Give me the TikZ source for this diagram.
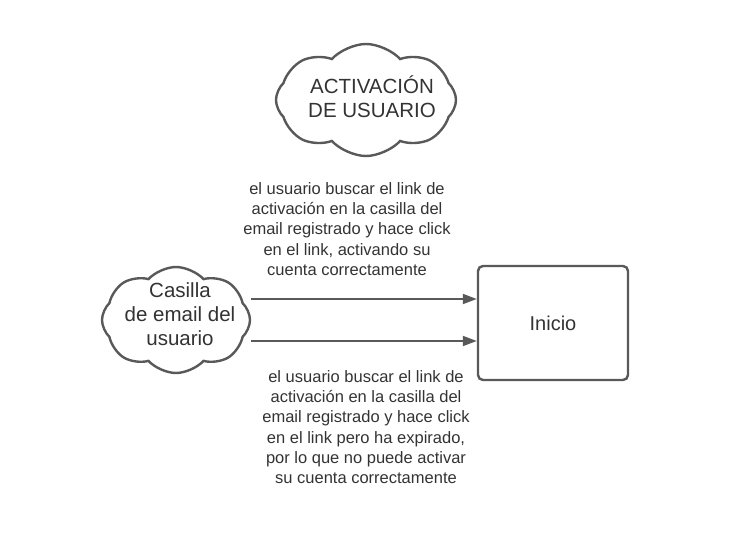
\documentclass[tikz,border=0pt]{standalone}
\usepackage{fontspec}
\setmainfont{Liberation Sans}
\usetikzlibrary{shapes.symbols,arrows.meta}
\definecolor{edge}{HTML}{595959}
\definecolor{ink}{HTML}{333333}
\tikzset{
  cloudbox/.style={cloud, cloud puffs=8, cloud puff arc=95, cloud ignores aspect, draw=edge, line width=2.4pt, fill=white,
    inner sep=0pt},
  cloudtxt/.style={text=ink, align=center, font=\fontsize{20.5}{24}\selectfont},
  procbox/.style={draw=edge, line width=2.4pt, rounded corners=5pt, minimum width=150pt, minimum height=114pt,
    text=ink, font=\fontsize{20}{24}\selectfont},
  lbl/.style={text=ink, align=center, font=\fontsize{16.5}{20.3}\selectfont},
  arr/.style={draw=edge, line width=1.8pt, -{Triangle[length=14pt,width=10pt]}}
}
\begin{document}
\begin{tikzpicture}[x=1pt,y=-1pt]
\useasboundingbox (0,0) rectangle (732,541);
\node[cloudbox, minimum width=180pt, minimum height=112pt] (title) at (366,100) {};
\node[cloudtxt] (titletxt) at (372,97) {ACTIVACIÓN\\DE USUARIO};
\node[cloudbox, minimum width=148pt, minimum height=106pt] (src) at (176,320) {};
\node[cloudtxt] (srctxt) at (180,314) {Casilla\\de email del\\usuario};
\node[procbox] (inicio) at (553,323) {Inicio};
\node[lbl] (top) at (347,229) {el usuario buscar el link de\\activación en la casilla del\\email registrado y hace click\\en el link, activando su\\cuenta correctamente};
\node[lbl] (bot) at (366,427) {el usuario buscar el link de\\activación en la casilla del\\email registrado y hace click\\en el link pero ha expirado,\\por lo que no puede activar\\su cuenta correctamente};
\coordinate (a1) at ([yshift=21pt]src.east);
\coordinate (a2) at ([yshift=-21pt]src.east);
\draw[arr] (a1) -- (a1 -| inicio.west);
\draw[arr] (a2) -- (a2 -| inicio.west);
\end{tikzpicture}
\end{document}
